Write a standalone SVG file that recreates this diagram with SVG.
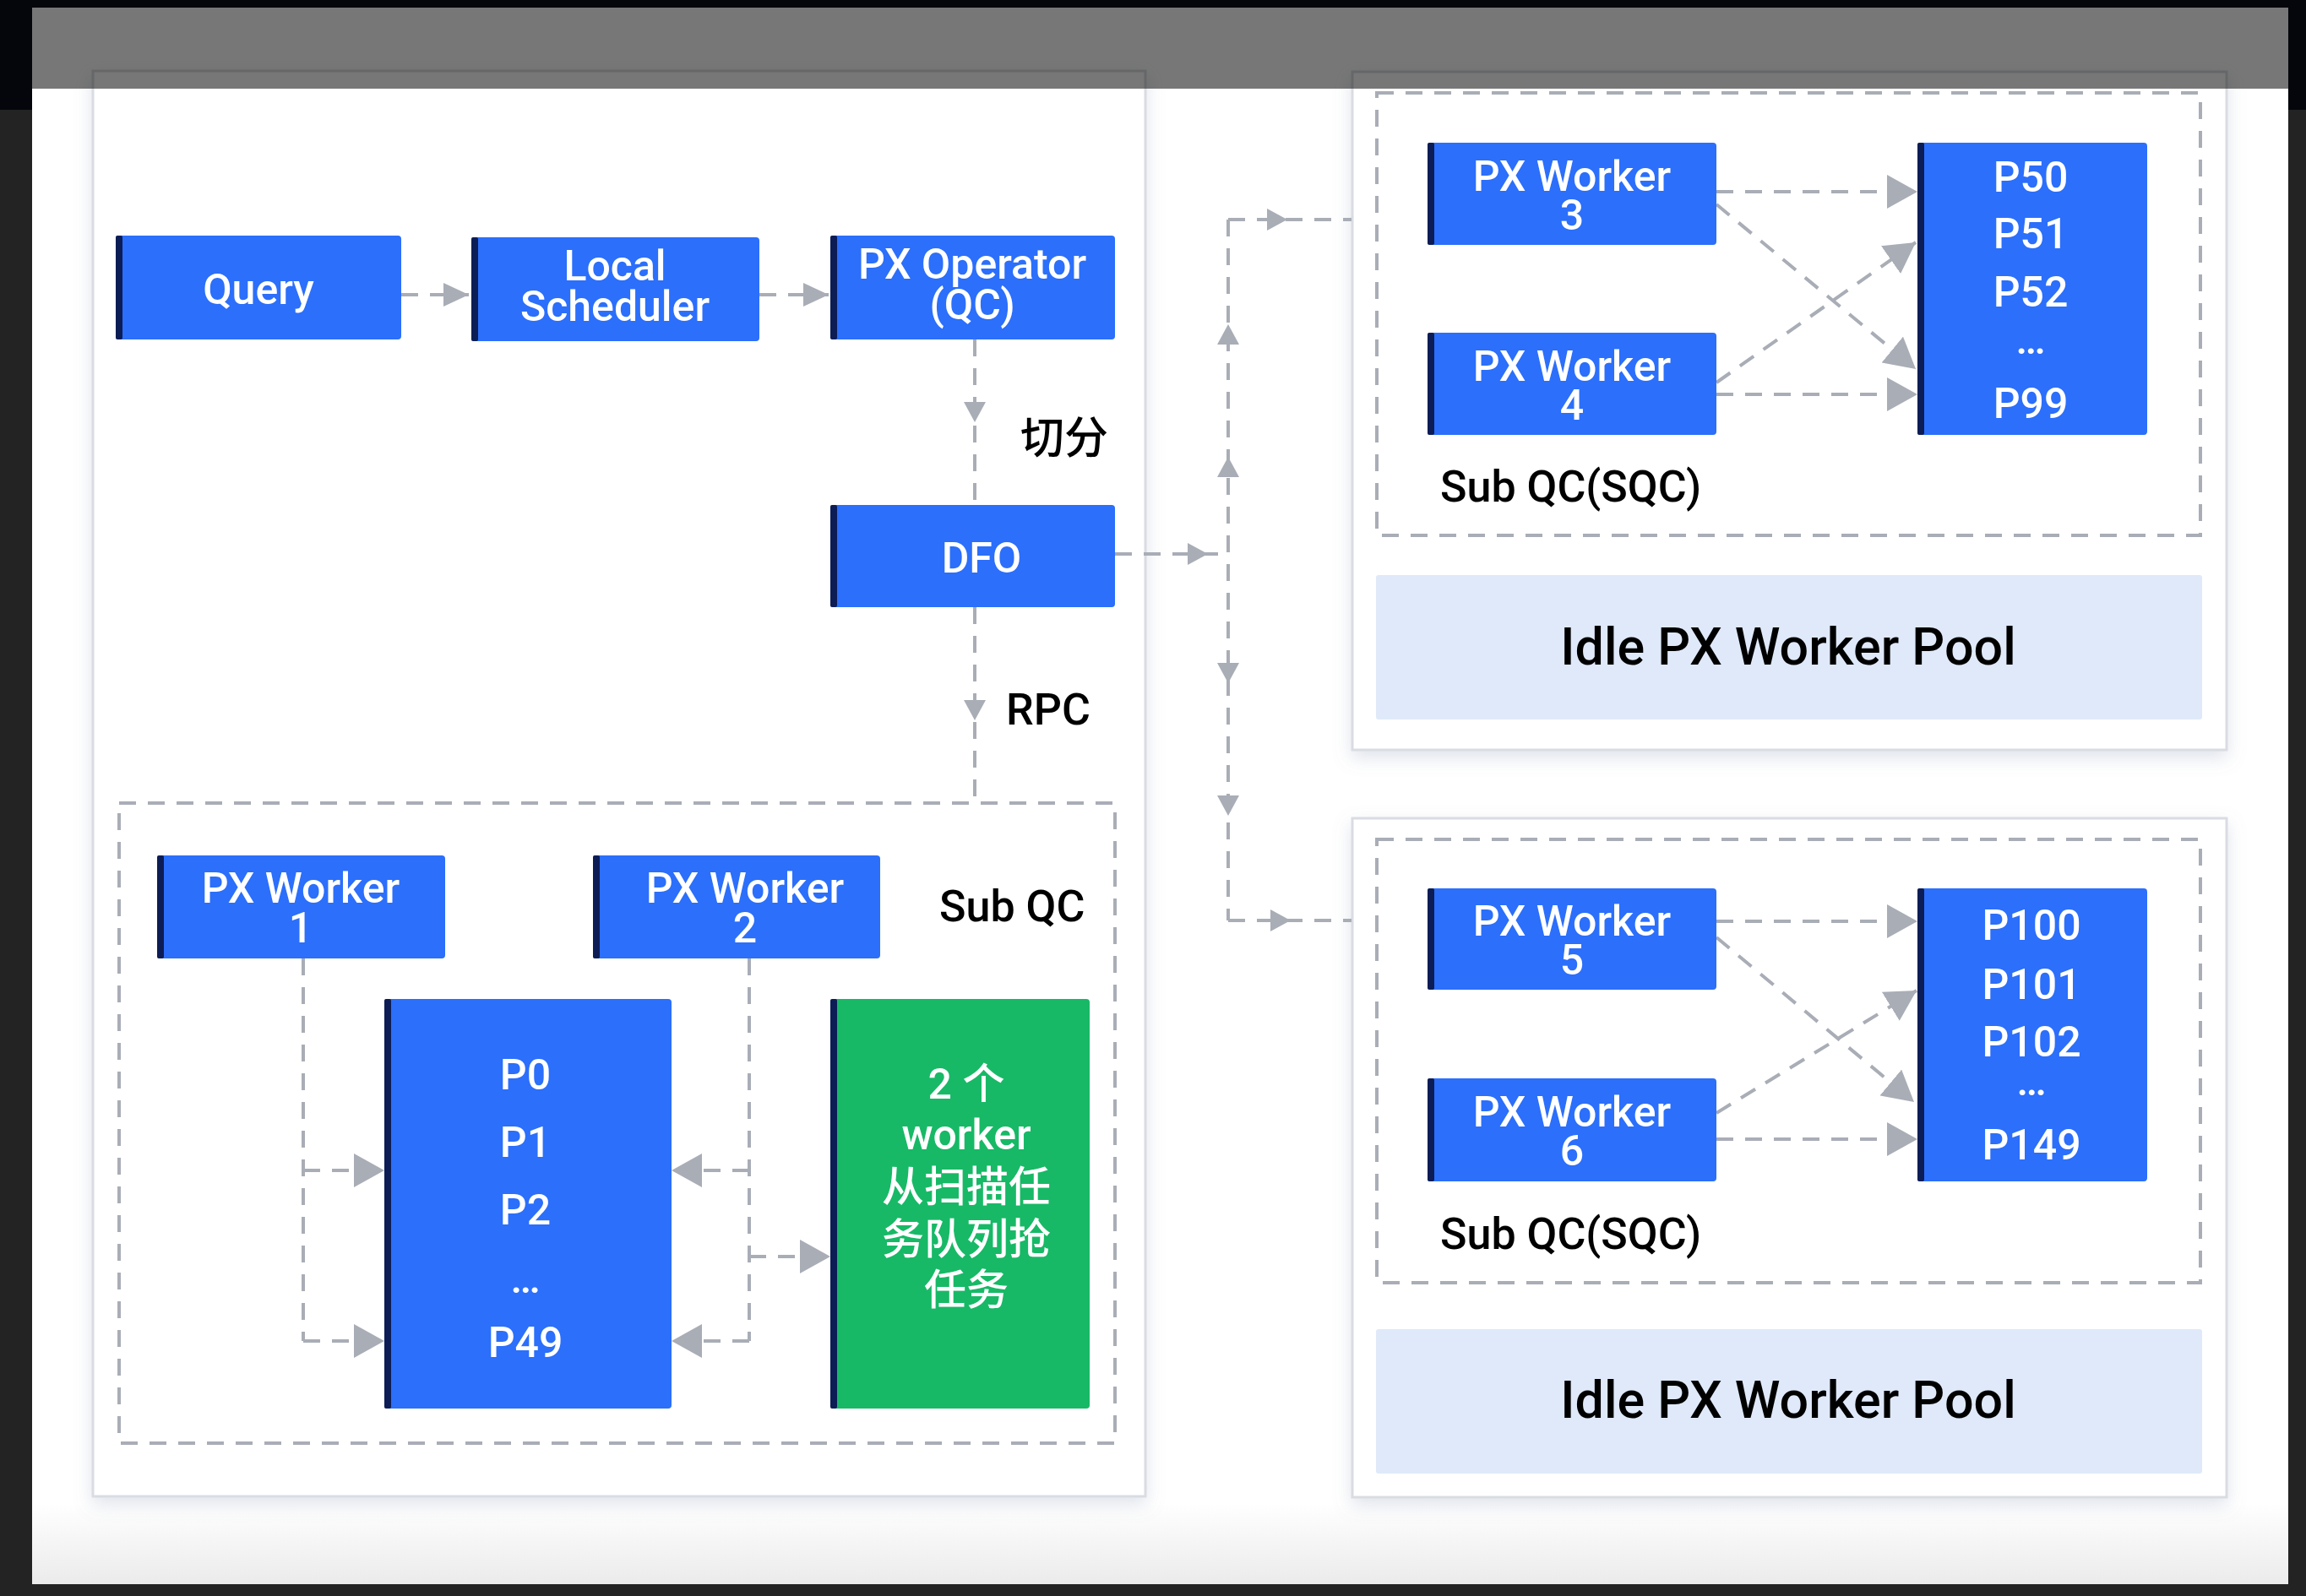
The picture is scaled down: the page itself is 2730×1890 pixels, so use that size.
<svg xmlns="http://www.w3.org/2000/svg" xmlns:xlink="http://www.w3.org/1999/xlink" width="2730" height="1890" viewBox="0 0 2730 1890">
<defs>
<style>
.panel{fill:#ffffff;stroke:#d9dce2;stroke-width:3;filter:url(#shadow)}
.box{fill:#2b6ffb}
.green{fill:#17b966}
.stripe{fill:#0c1d55}
.dash{fill:none;stroke:#a9adb6;stroke-width:4;stroke-dasharray:20 14}
.conn{fill:none;stroke:#a9adb6;stroke-width:4;stroke-dasharray:20 14}
.head{fill:#a9adb6}
.idle{fill:#dfe9f9}
.wt{fill:#ffffff;font-family:Roboto,"Liberation Sans","Noto Sans CJK SC",sans-serif;font-size:50px;font-weight:500;text-anchor:middle}
.bt{fill:#000000;font-family:Roboto,"Liberation Sans","Noto Sans CJK SC",sans-serif;font-size:52px;font-weight:500}
.big{fill:#000000;font-family:Roboto,"Liberation Sans",sans-serif;font-size:61px;font-weight:500;text-anchor:middle}
</style>
<filter id="shadow" x="-5%" y="-5%" width="110%" height="115%">
<feDropShadow dx="0" dy="8" stdDeviation="10" flood-color="#8090b0" flood-opacity="0.25"/>
</filter>
<linearGradient id="bottomfade" x1="0" y1="0" x2="0" y2="1">
<stop offset="0" stop-color="#ffffff"/>
<stop offset="1" stop-color="#ebebeb"/>
</linearGradient>
<marker id="bigArrow" markerUnits="userSpaceOnUse" markerWidth="38" markerHeight="40" refX="36" refY="20" orient="auto">
<path d="M0,0 L36,20 L0,40 z" class="head"/>
</marker>
<marker id="midArrow" markerUnits="userSpaceOnUse" markerWidth="32" markerHeight="28" refX="30" refY="14" orient="auto">
<path d="M0,0 L30,14 L0,28 z" class="head"/>
</marker>
<path id="tri" d="M-24,-13 L0,0 L-24,13 z" class="head"/>
</defs>

<!-- backdrop -->
<rect x="0" y="0" width="2730" height="1890" fill="#232323"/>
<rect x="0" y="0" width="2730" height="130" fill="#04060b"/>
<rect x="38" y="9" width="2671" height="1867" fill="#ffffff"/>
<rect x="38" y="1780" width="2671" height="96" fill="url(#bottomfade)"/>

<!-- panels -->
<g id="left-panel"><rect class="panel" x="110" y="84" width="1246" height="1688"/></g>
<g id="right-top-panel"><rect class="panel" x="1601" y="85" width="1035" height="803"/></g>
<g id="right-bottom-panel"><rect class="panel" x="1601" y="969" width="1035" height="804"/></g>

<!-- dashed containers -->
<g id="sub-qc-left">
<rect class="dash" x="141" y="951" width="1179" height="758"/>
<text class="bt" x="1112" y="1091">Sub QC</text>
</g>
<g id="sqc-top">
<rect class="dash" x="1630" y="110" width="975" height="524"/>
<text class="bt" x="1705" y="594">Sub QC(SQC)</text>
</g>
<g id="sqc-bottom">
<rect class="dash" x="1630" y="994" width="975" height="525"/>
<text class="bt" x="1705" y="1479">Sub QC(SQC)</text>
</g>

<!-- connectors -->
<g id="connectors">
<path class="conn" d="M475,349 H555" marker-end="url(#midArrow)"/>
<path class="conn" d="M899,349 H981" marker-end="url(#midArrow)"/>
<path class="conn" d="M1154,402 V598"/>
<use xlink:href="#tri" transform="translate(1154,500) rotate(90)"/>
<path class="conn" d="M1154,719 V951"/>
<use xlink:href="#tri" transform="translate(1154,853) rotate(90)"/>
<path class="conn" d="M1320,656 H1454"/>
<use xlink:href="#tri" transform="translate(1430,656)"/>
<path class="conn" d="M1454,260 V1090"/>
<use xlink:href="#tri" transform="translate(1454,384) rotate(-90)"/>
<use xlink:href="#tri" transform="translate(1454,541) rotate(-90)"/>
<use xlink:href="#tri" transform="translate(1454,809) rotate(90)"/>
<use xlink:href="#tri" transform="translate(1454,966) rotate(90)"/>
<path class="conn" d="M1454,260 H1600"/>
<use xlink:href="#tri" transform="translate(1524,260)"/>
<path class="conn" d="M1454,1090 H1600"/>
<use xlink:href="#tri" transform="translate(1528,1090)"/>

<path class="conn" d="M2032,227 H2270" marker-end="url(#bigArrow)"/>
<path class="conn" d="M2032,242 L2268,437" marker-end="url(#bigArrow)"/>
<path class="conn" d="M2032,453 L2268,287" marker-end="url(#bigArrow)"/>
<path class="conn" d="M2032,467 H2270" marker-end="url(#bigArrow)"/>

<path class="conn" d="M2032,1091 H2270" marker-end="url(#bigArrow)"/>
<path class="conn" d="M2032,1110 L2266,1305" marker-end="url(#bigArrow)"/>
<path class="conn" d="M2032,1318 L2269,1173" marker-end="url(#bigArrow)"/>
<path class="conn" d="M2032,1349 H2270" marker-end="url(#bigArrow)"/>

<path class="conn" d="M359,1135 V1588"/>
<path class="conn" d="M359,1386 H455" marker-end="url(#bigArrow)"/>
<path class="conn" d="M359,1588 H455" marker-end="url(#bigArrow)"/>
<path class="conn" d="M887,1135 V1588"/>
<path class="conn" d="M887,1386 H795" marker-end="url(#bigArrow)"/>
<path class="conn" d="M887,1588 H795" marker-end="url(#bigArrow)"/>
<path class="conn" d="M887,1488 H983" marker-end="url(#bigArrow)"/>
</g>

<!-- edge labels -->
<text class="bt" x="1208" y="537" font-size="50">切分</text>
<text class="bt" x="1191" y="858">RPC</text>

<!-- nodes -->
<g id="query">
<rect class="box" x="137" y="279" width="338" height="123" rx="4"/>
<rect class="stripe" x="137" y="279" width="8" height="123" rx="2"/>
<text class="wt" x="306" y="360">Query</text>
</g>
<g id="local-scheduler">
<rect class="box" x="558" y="281" width="341" height="123" rx="4"/>
<rect class="stripe" x="558" y="281" width="8" height="123" rx="2"/>
<text class="wt" x="728" y="332">Local</text>
<text class="wt" x="728" y="380">Scheduler</text>
</g>
<g id="px-operator">
<rect class="box" x="983" y="279" width="337" height="123" rx="4"/>
<rect class="stripe" x="983" y="279" width="8" height="123" rx="2"/>
<text class="wt" x="1151" y="330">PX Operator</text>
<text class="wt" x="1151" y="378">(QC)</text>
</g>
<g id="dfo">
<rect class="box" x="983" y="598" width="337" height="121" rx="4"/>
<rect class="stripe" x="983" y="598" width="8" height="121" rx="2"/>
<text class="wt" x="1162" y="678">DFO</text>
</g>
<g id="px-worker-1">
<rect class="box" x="186" y="1013" width="341" height="122" rx="4"/>
<rect class="stripe" x="186" y="1013" width="8" height="122" rx="2"/>
<text class="wt" x="356" y="1069">PX Worker</text>
<text class="wt" x="356" y="1116">1</text>
</g>
<g id="px-worker-2">
<rect class="box" x="702" y="1013" width="340" height="122" rx="4"/>
<rect class="stripe" x="702" y="1013" width="8" height="122" rx="2"/>
<text class="wt" x="882" y="1069">PX Worker</text>
<text class="wt" x="882" y="1116">2</text>
</g>
<g id="partitions-p0-p49">
<rect class="box" x="455" y="1183" width="340" height="485" rx="4"/>
<rect class="stripe" x="455" y="1183" width="8" height="485" rx="2"/>
<text class="wt" x="622" y="1290">P0</text>
<text class="wt" x="622" y="1370">P1</text>
<text class="wt" x="622" y="1450">P2</text>
<text class="wt" x="622" y="1531">…</text>
<text class="wt" x="622" y="1607">P49</text>
</g>
<g id="scan-task-note">
<rect class="green" x="983" y="1183" width="307" height="485" rx="4"/>
<rect class="stripe" x="983" y="1183" width="8" height="485" rx="2"/>
<text class="wt" x="1144" y="1301">2 个</text>
<text class="wt" x="1144" y="1361">worker</text>
<text class="wt" x="1144" y="1423">从扫描任</text>
<text class="wt" x="1144" y="1485">务队列抢</text>
<text class="wt" x="1144" y="1545">任务</text>
</g>

<g id="px-worker-3">
<rect class="box" x="1690" y="169" width="342" height="121" rx="4"/>
<rect class="stripe" x="1690" y="169" width="8" height="121" rx="2"/>
<text class="wt" x="1861" y="226">PX Worker</text>
<text class="wt" x="1861" y="272">3</text>
</g>
<g id="px-worker-4">
<rect class="box" x="1690" y="394" width="342" height="121" rx="4"/>
<rect class="stripe" x="1690" y="394" width="8" height="121" rx="2"/>
<text class="wt" x="1861" y="451">PX Worker</text>
<text class="wt" x="1861" y="497">4</text>
</g>
<g id="partitions-p50-p99">
<rect class="box" x="2270" y="169" width="272" height="346" rx="4"/>
<rect class="stripe" x="2270" y="169" width="8" height="346" rx="2"/>
<text class="wt" x="2404" y="227">P50</text>
<text class="wt" x="2404" y="294">P51</text>
<text class="wt" x="2404" y="363">P52</text>
<text class="wt" x="2404" y="419">…</text>
<text class="wt" x="2404" y="495">P99</text>
</g>
<g id="idle-pool-top">
<rect class="idle" x="1629" y="681" width="978" height="171" rx="3"/>
<text class="big" x="2117" y="787">Idle PX Worker Pool</text>
</g>

<g id="px-worker-5">
<rect class="box" x="1690" y="1052" width="342" height="120" rx="4"/>
<rect class="stripe" x="1690" y="1052" width="8" height="120" rx="2"/>
<text class="wt" x="1861" y="1108">PX Worker</text>
<text class="wt" x="1861" y="1154">5</text>
</g>
<g id="px-worker-6">
<rect class="box" x="1690" y="1277" width="342" height="122" rx="4"/>
<rect class="stripe" x="1690" y="1277" width="8" height="122" rx="2"/>
<text class="wt" x="1861" y="1334">PX Worker</text>
<text class="wt" x="1861" y="1380">6</text>
</g>
<g id="partitions-p100-p149">
<rect class="box" x="2270" y="1052" width="272" height="347" rx="4"/>
<rect class="stripe" x="2270" y="1052" width="8" height="347" rx="2"/>
<text class="wt" x="2405" y="1113">P100</text>
<text class="wt" x="2405" y="1183">P101</text>
<text class="wt" x="2405" y="1251">P102</text>
<text class="wt" x="2405" y="1297">…</text>
<text class="wt" x="2405" y="1373">P149</text>
</g>
<g id="idle-pool-bottom">
<rect class="idle" x="1629" y="1574" width="978" height="171" rx="3"/>
<text class="big" x="2117" y="1679">Idle PX Worker Pool</text>
</g>

<!-- top grey overlay -->
<rect x="38" y="9" width="2671" height="96" fill="#000000" fill-opacity="0.533"/>
</svg>
